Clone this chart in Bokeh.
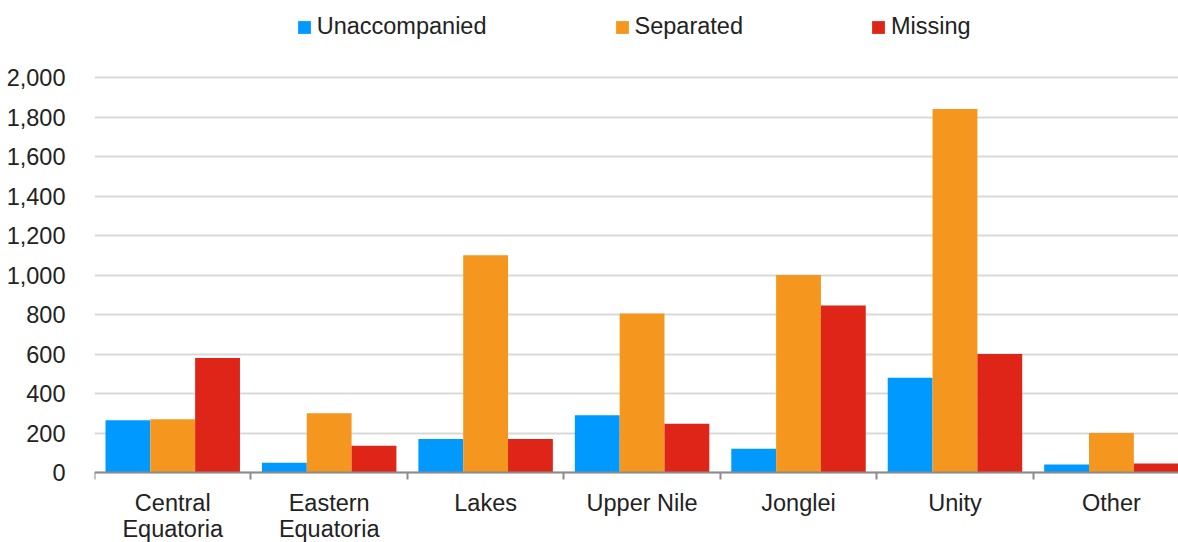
from bokeh.plotting import figure
from bokeh.models import (Range1d, FixedTicker, NumeralTickFormatter, Legend,
                          LegendItem, ColumnDataSource)
from bokeh.embed import file_html
from bokeh.resources import INLINE

regions = ["Central\nEquatoria", "Eastern\nEquatoria", "Lakes", "Upper Nile",
           "Jonglei", "Unity", "Other"]
unaccompanied = [265, 50, 170, 290, 120, 480, 40]
separated = [270, 300, 1100, 805, 1000, 1840, 200]
missing = [580, 135, 170, 247, 845, 600, 45]
y_ticks = [0, 200, 400, 600, 800, 1000, 1200, 1400, 1600, 1800, 2000]

series_names = ["Unaccompanied", "Separated", "Missing"]
series_colors = ["#0099FF", "#F5961F", "#DE2518"]

FONT = "Liberation Sans"
FSIZE = "23.5px"
TEXT = "#222222"

W, H = 1178, 542
LEFT = 94
ZERO_PX = 472          # screen row of the value 0
TOP_PX = 77            # screen row of the value 2000
px_per_unit = (ZERO_PX - TOP_PX) / 2000.0

centers = [i + 0.5 for i in range(len(regions))]
bw = 0.2865
cat_px = 156.45

p = figure(width=W, height=H, output_backend="svg", toolbar_location=None,
           x_range=Range1d(0, (W - LEFT) / cat_px),
           y_range=Range1d(-(H - ZERO_PX) / px_per_unit, ZERO_PX / px_per_unit),
           min_border_left=LEFT, min_border_right=0, min_border_top=0,
           min_border_bottom=0)
p.outline_line_color = None
p.background_fill_color = "white"

renderers = []
for k, (vals, col) in enumerate(zip([unaccompanied, separated, missing], series_colors)):
    src = ColumnDataSource(dict(x=[c + (k - 1) * bw for c in centers], top=vals))
    r = p.vbar(x="x", top="top", width=bw, bottom=0, source=src,
               fill_color=col, line_color=None)
    renderers.append(r)

# x axis pinned at value 0: labels at centres, ticks at category boundaries
xa = p.xaxis[0]
xa.fixed_location = 0
xa.ticker = FixedTicker(ticks=centers, minor_ticks=list(range(len(regions) + 1)))
xa.major_label_overrides = {c: lab for c, lab in zip(centers, regions)}
xa.major_tick_out = 0
xa.major_tick_in = 0
xa.minor_tick_out = 7
xa.minor_tick_in = 0
xa.minor_tick_line_color = "#8C8C8C"
xa.minor_tick_line_width = 2
xa.axis_line_color = "#8C8C8C"
xa.axis_line_width = 2
xa.major_label_standoff = 10
xa.major_label_text_font = FONT
xa.major_label_text_font_size = FSIZE
xa.major_label_text_color = TEXT
xa.major_label_text_line_height = 1.0

ya = p.yaxis[0]
ya.ticker = FixedTicker(ticks=y_ticks)
ya.formatter = NumeralTickFormatter(format="0,0")
ya.axis_line_color = None
ya.major_tick_line_color = None
ya.minor_tick_line_color = None
ya.major_label_standoff = 23
ya.major_label_text_font = FONT
ya.major_label_text_font_size = FSIZE
ya.major_label_text_color = TEXT

p.xgrid.grid_line_color = None
p.ygrid.grid_line_color = "#D9D9D9"
p.ygrid.grid_line_width = 2

legend = Legend(items=[LegendItem(label=n, renderers=[r]) for n, r in zip(series_names, renderers)],
                orientation="horizontal", location=(201.7, H - 40), spacing=127,
                glyph_width=16, glyph_height=16, label_standoff=5, padding=0, margin=0,
                border_line_alpha=0, background_fill_alpha=0,
                label_text_font=FONT, label_text_font_size=FSIZE,
                label_text_color=TEXT)
p.add_layout(legend, "center")

open("out.html", "w").write(file_html(p, INLINE))
